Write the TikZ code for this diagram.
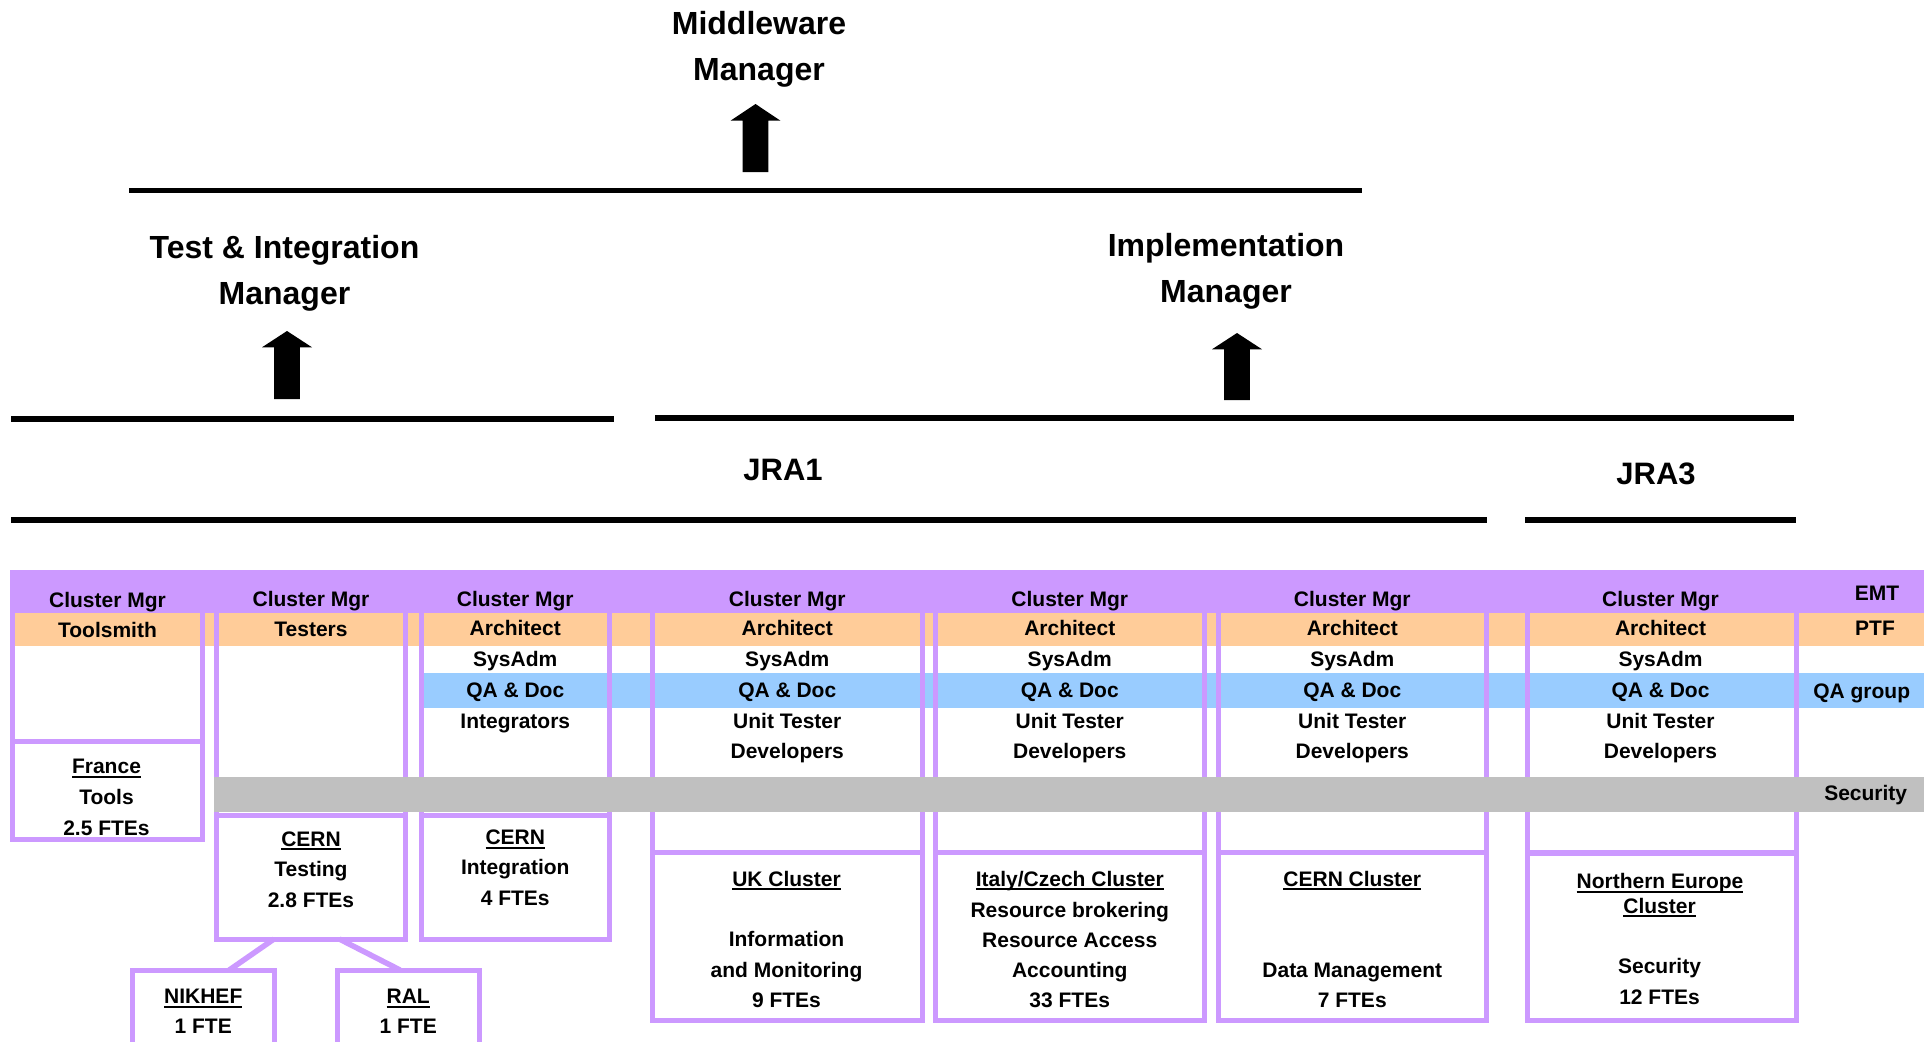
\documentclass[tikz,border=0pt]{standalone}
\usepackage{fontspec}
\setmainfont{Liberation Sans}
\usetikzlibrary{calc}
\definecolor{purp}{HTML}{CC99FF}
\definecolor{orng}{HTML}{FFCC99}
\definecolor{blu}{HTML}{99CCFF}
\definecolor{gry}{HTML}{C0C0C0}
\newcommand\myul[1]{\setbox0\hbox{#1}\rlap{\rule[-4.4pt]{\wd0}{2.2pt}}\box0}
\tikzset{
  pbox/.style={draw=purp, line width=5pt, inner sep=0pt, outer sep=0pt, rectangle},
  small/.style={font=\bfseries\fontsize{21}{25}\selectfont, inner sep=0pt, anchor=base},
  big/.style={font=\bfseries\fontsize{32}{38}\selectfont, inner sep=0pt, anchor=base},
  jra/.style={font=\bfseries\fontsize{31}{37}\selectfont, inner sep=0pt, anchor=base},
  hline/.style={line width=5.5pt, black},
  link/.style={draw=purp, line width=5.5pt},
}
\begin{document}
\begin{tikzpicture}[x=1pt,y=-1pt]
\useasboundingbox (0,0) rectangle (1924,1041);
\clip (0,0) rectangle (1924,1041);
\fill[white] (0,0) rectangle (1924,1041);

% ---------- top titles ----------
\node[big] (mw1) at (759,35) {Middleware};
\node[big] (mw2) at (759,80.5) {Manager};
\node[big] (ti1) at (284.5,258) {Test \& Integration};
\node[big] (ti2) at (284.5,304) {Manager};
\node[big] (im1) at (1226,256.5) {Implementation};
\node[big] (im2) at (1226,302.5) {Manager};
\node[jra] (jra1) at (783,480.5) {JRA1};
\node[jra] (jra3) at (1656,484) {JRA3};

% ---------- block arrows ----------
\fill[black] (755.5,104) -- (780.5,120.7) -- (768.3,120.7) -- (768.3,172) -- (742.7,172) -- (742.7,120.7) -- (730.5,120.7) -- cycle;
\fill[black] (287,331) -- (312,347.3) -- (299.8,347.3) -- (299.8,399) -- (274.2,399) -- (274.2,347.3) -- (262,347.3) -- cycle;
\fill[black] (1237,333) -- (1262,349.3) -- (1249.8,349.3) -- (1249.8,400) -- (1224.2,400) -- (1224.2,349.3) -- (1212,349.3) -- cycle;

% ---------- horizontal bars ----------
\coordinate (l1a) at (129,190.5);  \coordinate (l1b) at (1362,190.5);
\coordinate (l2a) at (11,419);     \coordinate (l2b) at (614,419);
\coordinate (l2c) at (655,418);    \coordinate (l2d) at (1794,418);
\coordinate (l3a) at (11,520);     \coordinate (l3b) at (1487,520);
\coordinate (l3c) at (1525,520);   \coordinate (l3d) at (1796,520);
\draw[hline] (l1a) -- (l1b);
\draw[hline] (l2a) -- (l2b);
\draw[hline] (l2c) -- (l2d);
\draw[hline] (l3a) -- (l3b);
\draw[hline] (l3c) -- (l3d);

% ---------- bands ----------
\fill[purp] (10,570) rectangle (1924,613);
\fill[orng] (10,613) rectangle (1924,646);
\fill[blu]  (419,673) rectangle (1924,708);

% ---------- column frames ----------
\node[pbox, minimum width=189.5pt, minimum height=169pt]   (col1) at (107.5,657) {};
\node[pbox, minimum width=189pt,   minimum height=242.5pt] (col2) at (311,693.75) {};
\node[pbox, minimum width=188.5pt, minimum height=242.5pt] (col3) at (515.25,693.75) {};
\node[pbox, minimum width=269.5pt, minimum height=280pt]   (col4) at (787.25,712.5) {};
\node[pbox, minimum width=269.5pt, minimum height=280pt]   (col5) at (1069.75,712.5) {};
\node[pbox, minimum width=268.5pt, minimum height=280pt]   (col6) at (1352.25,712.5) {};
\node[pbox, minimum width=269pt,   minimum height=280pt]   (col7) at (1661.5,712.5) {};

% security band on top
\fill[gry] (214,777) rectangle (1924,812);

% ---------- bottom boxes ----------
\node[pbox, minimum width=189.5pt, minimum height=97.5pt] (france) at (107.5,790.25) {};
\node[pbox, minimum width=189pt,   minimum height=124pt] (cernT) at (311,877) {};
\node[pbox, minimum width=188.5pt, minimum height=124pt] (cernI) at (515.25,877) {};
\node[pbox, minimum width=141.5pt, minimum height=80pt]  (nikhef) at (203.25,1010) {};
\node[pbox, minimum width=141.5pt, minimum height=80pt]  (ral) at (408.25,1010) {};
\node[pbox, minimum width=269.5pt, minimum height=167.5pt] (uk) at (787.25,936.25) {};
\node[pbox, minimum width=269.5pt, minimum height=167.5pt] (itcz) at (1069.75,936.25) {};
\node[pbox, minimum width=268.5pt, minimum height=167.5pt] (cernC) at (1352.25,936.25) {};
\node[pbox, minimum width=269pt,   minimum height=167.5pt] (neur) at (1661.5,936.75) {};

\draw[link] ($(cernT.south west)+(57.5,0)$) -- ($(nikhef.north west)+(96.8,0)$);
\draw[link] ($(cernT.south west)+(122.8,0)$) -- ($(ral.north west)+(62.5,0)$);

% ---------- column texts ----------
\node[small] (c1a) at (107.5,607.5) {Cluster Mgr};
\node[small] (c1b) at (107.5,637.5) {Toolsmith};
\node[small] (c2a) at (311,606.5) {Cluster Mgr};
\node[small] (c2b) at (311,636) {Testers};
\node[small] (c3a) at (515.25,606) {Cluster Mgr};
\node[small] (c3b) at (515.25,635.5) {Architect};
\node[small] (c3c) at (515.25,666) {SysAdm};
\node[small] (c3d) at (515.25,697.3) {QA \& Doc};
\node[small] (c3e) at (515.25,728.3) {Integrators};
\foreach \cx/\nm in {787.25/c4,1069.75/c5,1352.25/c6,1660.5/c7}{
  \node[small] (\nm a) at (\cx,606) {Cluster Mgr};
  \node[small] (\nm b) at (\cx,635.5) {Architect};
  \node[small] (\nm c) at (\cx,666) {SysAdm};
  \node[small] (\nm d) at (\cx,697.3) {QA \& Doc};
  \node[small] (\nm e) at (\cx,728.3) {Unit Tester};
  \node[small] (\nm f) at (\cx,758.3) {Developers};
}

% ---------- right labels ----------
\node[small] (emt) at (1877,600.7) {EMT};
\node[small] (ptf) at (1875,635.7) {PTF};
\node[small] (qag) at (1861.7,698.3) {QA group};
\node[small] (sec) at (1865.7,800) {Security};

% ---------- bottom box texts ----------
\node[small] (fr1) at (106.5,773.5) {\myul{France}};
\node[small] (fr2) at (106.5,804.3) {Tools};
\node[small] (fr3) at (106.5,835) {2.5 FTEs};
\node[small] (ct1) at (311,846) {\myul{CERN}};
\node[small] (ct2) at (311,876) {Testing};
\node[small] (ct3) at (311,907) {2.8 FTEs};
\node[small] (ci1) at (515.25,844.5) {\myul{CERN}};
\node[small] (ci2) at (515.25,874.5) {Integration};
\node[small] (ci3) at (515.25,905.5) {4 FTEs};
\node[small] (nk1) at (203.25,1003.3) {\myul{NIKHEF}};
\node[small] (nk2) at (203.25,1033.3) {1 FTE};
\node[small] (ra1) at (408.25,1003.3) {\myul{RAL}};
\node[small] (ra2) at (408.25,1033.3) {1 FTE};
\node[small] (uk1) at (786.5,886) {\myul{UK Cluster}};
\node[small] (uk2) at (786.5,946.5) {Information};
\node[small] (uk3) at (786.5,977.5) {and Monitoring};
\node[small] (uk4) at (786.5,1007) {9 FTEs};
\node[small] (it1) at (1069.75,886) {\myul{Italy/Czech Cluster}};
\node[small] (it2) at (1069.75,917) {Resource brokering};
\node[small] (it3) at (1069.75,947) {Resource Access};
\node[small] (it4) at (1069.75,977.5) {Accounting};
\node[small] (it5) at (1069.75,1007.5) {33 FTEs};
\node[small] (cc1) at (1352.25,886) {\myul{CERN Cluster}};
\node[small] (cc2) at (1352.25,977.5) {Data Management};
\node[small] (cc3) at (1352.25,1007.5) {7 FTEs};
\node[small] (ne1) at (1660,888.3) {\myul{Northern Europe}};
\node[small] (ne2) at (1659.5,913) {\myul{Cluster}};
\node[small] (ne3) at (1659.5,973) {Security};
\node[small] (ne4) at (1659.5,1004.5) {12 FTEs};
\end{tikzpicture}
\end{document}
